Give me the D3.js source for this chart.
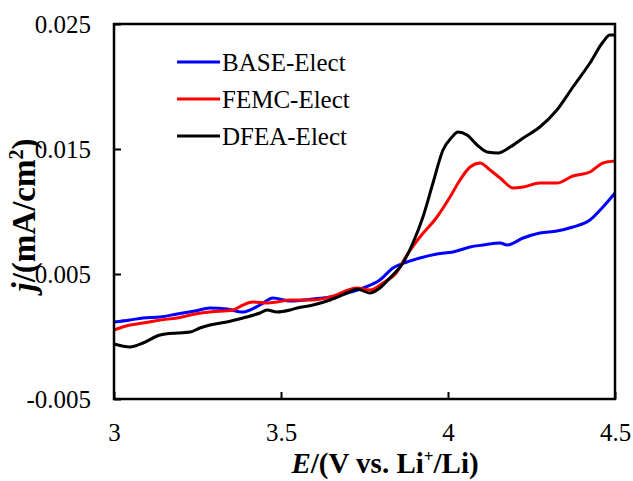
<!DOCTYPE html>
<html>
<head>
<meta charset="utf-8">
<script src="https://cdn.jsdelivr.net/npm/d3@7"></script>
<style>
  body { margin: 0; background: #fff; }
  svg text { font-family: "Liberation Serif", "Times New Roman", serif; }
</style>
</head>
<body>
<div id="chart"></div>
<script>
// potentials (V) and current densities (mA/cm2)
const baseE = [3.000, 3.048, 3.087, 3.138, 3.189, 3.243, 3.287, 3.338, 3.386, 3.437, 3.476, 3.527, 3.596, 3.647, 3.698, 3.746, 3.796, 3.835, 3.877, 3.916, 3.967, 4.015, 4.066, 4.105, 4.156, 4.177, 4.225, 4.275, 4.326, 4.374, 4.425, 4.464, 4.500]
const baseJ = [0.00116, 0.00132, 0.00148, 0.00156, 0.00180, 0.00204, 0.00228, 0.00220, 0.00196, 0.00252, 0.00308, 0.00284, 0.00300, 0.00316, 0.00348, 0.00388, 0.00452, 0.00548, 0.00596, 0.00628, 0.00660, 0.00676, 0.00716, 0.00732, 0.00748, 0.00732, 0.00788, 0.00828, 0.00844, 0.00876, 0.00932, 0.01036, 0.01148]

const femcE = [3.000, 3.048, 3.087, 3.138, 3.189, 3.243, 3.287, 3.356, 3.386, 3.416, 3.458, 3.488, 3.527, 3.596, 3.647, 3.728, 3.766, 3.805, 3.847, 3.877, 3.916, 3.967, 4.006, 4.036, 4.066, 4.096, 4.126, 4.156, 4.195, 4.225, 4.275, 4.326, 4.374, 4.425, 4.464, 4.500]
const femcJ = [0.00052, 0.00092, 0.00108, 0.00132, 0.00148, 0.00180, 0.00196, 0.00212, 0.00252, 0.00276, 0.00268, 0.00276, 0.00292, 0.00292, 0.00316, 0.00388, 0.00372, 0.00428, 0.00516, 0.00652, 0.00796, 0.00956, 0.01116, 0.01252, 0.01356, 0.01388, 0.01332, 0.01268, 0.01188, 0.01196, 0.01228, 0.01228, 0.01284, 0.01316, 0.01388, 0.01404]

const dfeaE = [3.000, 3.048, 3.087, 3.138, 3.189, 3.228, 3.257, 3.287, 3.338, 3.386, 3.437, 3.458, 3.488, 3.527, 3.548, 3.596, 3.647, 3.698, 3.728, 3.766, 3.796, 3.826, 3.865, 3.895, 3.925, 3.955, 3.985, 4.012, 4.030, 4.057, 4.087, 4.117, 4.150, 4.186, 4.225, 4.275, 4.326, 4.374, 4.425, 4.464, 4.485, 4.500]
const dfeaJ = [-0.00060, -0.00084, -0.00052, 0.00012, 0.00028, 0.00036, 0.00068, 0.00092, 0.00116, 0.00148, 0.00188, 0.00212, 0.00196, 0.00212, 0.00228, 0.00252, 0.00292, 0.00348, 0.00380, 0.00348, 0.00388, 0.00468, 0.00588, 0.00748, 0.00956, 0.01228, 0.01492, 0.01596, 0.01636, 0.01612, 0.01532, 0.01476, 0.01468, 0.01516, 0.01588, 0.01676, 0.01812, 0.01996, 0.02188, 0.02356, 0.02412, 0.02412]

const seriesNames = ["BASE-Elect", "FEMC-Elect", "DFEA-Elect"]
const seriesColors = ["#0000ff", "#ff0000", "#000000"]
const xTicks = [3, 3.5, 4, 4.5]
const yTicks = [-0.005, 0.005, 0.015, 0.025]

const width = 633
const height = 481
const marginLeft = 114
const marginRight = 18
const marginTop = 24
const marginBottom = 82

const series = [
  baseE.map((e, i) => [e, baseJ[i]]),
  femcE.map((e, i) => [e, femcJ[i]]),
  dfeaE.map((e, i) => [e, dfeaJ[i]])
]

const x = d3.scaleLinear([3, 4.5], [marginLeft, width - marginRight])
const y = d3.scaleLinear([-0.005, 0.025], [height - marginBottom, marginTop])

const svg = d3.select("#chart").append("svg")
    .attr("width", width)
    .attr("height", height)
    .attr("font-family", "'Liberation Serif', 'Times New Roman', serif")

// 曲线
const line = d3.line().x(d => x(d[0])).y(d => y(d[1])).curve(d3.curveMonotoneX)
svg.append("g")
  .selectAll("path")
  .data(series)
  .join("path")
    .attr("fill", "none")
    .attr("stroke", (d, i) => seriesColors[i])
    .attr("stroke-width", 3)
    .attr("stroke-linejoin", "round")
    .attr("d", line)

// 坐标轴 (ticks point inward)
svg.append("g")
    .attr("transform", `translate(0,${height - marginBottom})`)
    .call(d3.axisBottom(x).tickValues(xTicks).tickFormat(d3.format("")).tickSize(-7).tickPadding(24))
    .call(g => g.select(".domain").remove())
    .call(g => g.attr("font-family", null))
    .call(g => g.selectAll(".tick line").attr("stroke-width", 2))
    .call(g => g.selectAll("text").attr("font-size", 25).attr("fill", "#000"))

const yFormat = d3.format(".3f")
svg.append("g")
    .attr("transform", `translate(${marginLeft},0)`)
    .call(d3.axisLeft(y).tickValues(yTicks).tickFormat(d => yFormat(d).replace("\u2212", "-")).tickSize(-7).tickPadding(23))
    .call(g => g.select(".domain").remove())
    .call(g => g.attr("font-family", null))
    .call(g => g.selectAll(".tick line").attr("stroke-width", 2))
    .call(g => g.selectAll("text").attr("font-size", 25).attr("fill", "#000"))

// 外框
svg.append("rect")
    .attr("x", marginLeft)
    .attr("y", marginTop)
    .attr("width", width - marginLeft - marginRight)
    .attr("height", height - marginTop - marginBottom)
    .attr("fill", "none")
    .attr("stroke", "#000")
    .attr("stroke-width", 2.5)

// 图例
const legend = svg.append("g")
  .selectAll("g")
  .data(seriesNames)
  .join("g")
    .attr("transform", (d, i) => `translate(177,${62 + i * 37})`)
legend.append("line")
    .attr("x1", 0).attr("x2", 43)
    .attr("stroke", (d, i) => seriesColors[i])
    .attr("stroke-width", 3)
legend.append("text")
    .attr("x", 45)
    .attr("dy", "0.35em")
    .attr("font-size", 25)
    .text(d => d)

// 轴标题
const xt = svg.append("text")
    .attr("x", 385)
    .attr("y", 473)
    .attr("text-anchor", "middle")
    .attr("font-size", 29)
    .attr("font-weight", "bold")
xt.append("tspan").attr("font-style", "italic").text("E")
xt.append("tspan").text("/(V vs. Li")
xt.append("tspan").attr("font-size", 17).attr("dy", -11).text("+")
xt.append("tspan").attr("dy", 11).text("/Li)")

const yt = svg.append("text")
    .attr("transform", "translate(35,215) rotate(-90)")
    .attr("text-anchor", "middle")
    .attr("font-size", 33)
    .attr("font-weight", "bold")
yt.append("tspan").attr("font-style", "italic").text("j")
yt.append("tspan").text("/(mA/cm")
yt.append("tspan").attr("font-size", 20).attr("dy", -12).text("2")
yt.append("tspan").attr("dy", 12).text(")")
</script>
</body>
</html>
